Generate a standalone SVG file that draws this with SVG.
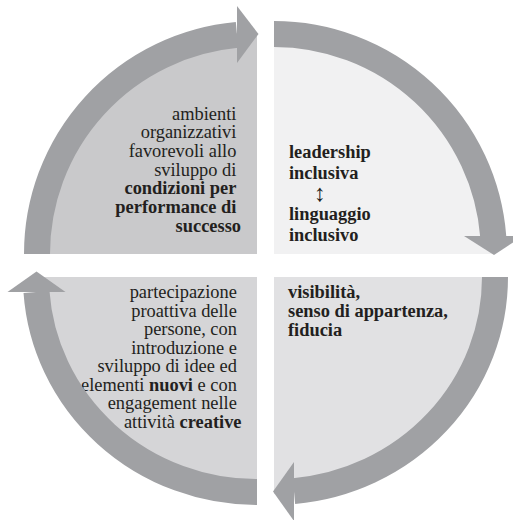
<svg xmlns="http://www.w3.org/2000/svg" width="513" height="520" viewBox="0 0 513 520">
  <style>
    .txt { font-family: "Liberation Serif", "Times New Roman", serif; font-size: 18.4px; fill: #231f20; }
    .b { font-weight: bold; }
    .sym { font-family: "Liberation Serif", "DejaVu Serif", serif; font-size: 24px; fill: #231f20; }
    .band { fill: none; stroke: #a0a1a4; stroke-width: 26; stroke-linecap: butt; }
    .head { fill: #a0a1a4; stroke: none; }
  </style>
  <rect width="513" height="520" fill="#ffffff"/>

  <!-- quadrant: organisational environment (top left) -->
  <g id="q-ambienti">
    <path d="M257,254 L35,254 A222,222 0 0 1 257,32 Z" fill="#c9c9cb"/>
    <text class="txt" text-anchor="end">
      <tspan x="241" y="119.5">ambienti</tspan>
      <tspan x="241" y="138">organizzativi</tspan>
      <tspan x="241" y="157">favorevoli allo</tspan>
      <tspan x="241" y="175.5">sviluppo di</tspan>
      <tspan x="241" y="194" class="b">condizioni per</tspan>
      <tspan x="241" y="213" class="b">performance di</tspan>
      <tspan x="241" y="231.5" class="b">successo</tspan>
    </text>
  </g>

  <!-- quadrant: inclusive leadership (top right) -->
  <g id="q-leadership">
    <path d="M274,254 L274,32 A222,222 0 0 1 496,254 Z" fill="#f1f1f2"/>
    <text class="txt b">
      <tspan x="289" y="158">leadership</tspan>
      <tspan x="289" y="178.5">inclusiva</tspan>
      <tspan x="289" y="220">linguaggio</tspan>
      <tspan x="289" y="241">inclusivo</tspan>
    </text>
    <text class="sym" x="320" y="201" text-anchor="middle">↕</text>
  </g>

  <!-- quadrant: visibility and belonging (bottom right) -->
  <g id="q-visibilita">
    <path d="M274,277 L497,277 A223,217 0 0 1 274,494 Z" fill="#e1e1e3"/>
    <text class="txt b">
      <tspan x="288" y="298">visibilità,</tspan>
      <tspan x="288" y="317">senso di appartenza,</tspan>
      <tspan x="288" y="336">fiducia</tspan>
    </text>
  </g>

  <!-- quadrant: proactive participation (bottom left) -->
  <g id="q-partecipazione">
    <path d="M257,277 L257,494 A223,217 0 0 1 34,277 Z" fill="#d5d5d7"/>
    <text class="txt" text-anchor="end">
      <tspan x="241.5" y="298">partecipazione</tspan>
      <tspan x="241.5" y="316.5">proattiva delle</tspan>
      <tspan x="241.5" y="335">persone, con</tspan>
      <tspan x="241.5" y="353.5">introduzione e</tspan>
      <tspan x="241.5" y="372">sviluppo di idee ed</tspan>
      <tspan x="241.5" y="390.5">elementi <tspan class="b">nuovi</tspan> e con</tspan>
      <tspan x="241.5" y="409">engagement nelle</tspan>
      <tspan x="241.5" y="427.5">attività <tspan class="b">creative</tspan></tspan>
    </text>
  </g>

  <!-- circular arrows linking the quadrants clockwise -->
  <g id="connectors">
    <path class="band" d="M37,254 A220,220 0 0 1 237,34.9"/>
    <polygon class="head" points="237,6 258.5,34 237,63"/>

    <path class="band" d="M274,34 A220,220 0 0 1 493.3,237"/>
    <polygon class="head" points="464,236 523,236 494,255"/>

    <path class="band" d="M495,277 A221,215 0 0 1 294,491.1"/>
    <polygon class="head" points="294,462 294,521 273,491.5"/>

    <path class="band" d="M257,492 A221,215 0 0 1 36.5,292"/>
    <polygon class="head" points="7.5,292 65.5,292 36.5,271.5"/>
  </g>
</svg>
